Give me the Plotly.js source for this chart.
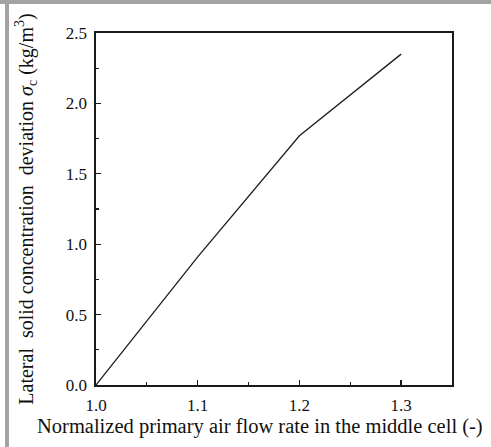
<!DOCTYPE html>
<html>
<head>
<meta charset="utf-8">
<script src="https://cdn.plot.ly/plotly-3.0.1.min.js"></script>
<style>
  html, body { margin: 0; padding: 0; background: #fff; }
  #wrap { position: relative; width: 491px; height: 447px; overflow: hidden; }
  #chart { position: absolute; left: 0; top: 0; width: 491px; height: 447px; }
  .bar-top { position: absolute; left: 0; top: 0; width: 491px; height: 4px; background: #a3a3a3; z-index: 5; }
  .bar-left { position: absolute; left: 5px; top: 0; width: 4px; height: 447px; background: #a3a3a3; z-index: 5; }
</style>
</head>
<body>
<div id="wrap">
  <div id="chart"></div>
  <div class="bar-top"></div>
  <div class="bar-left"></div>
</div>
<script>
// Data
const flowRate = [1.0, 1.1, 1.2, 1.3];
const deviation = [0.0, 0.91, 1.77, 2.35];
const xTickVals = [1.0, 1.1, 1.2, 1.3];
const yTickVals = [0.0, 0.5, 1.0, 1.5, 2.0, 2.5];
const xTitle = 'Normalized primary air flow rate in the middle cell (-)';
const yTitle = 'Lateral\u00A0 solid concentration\u00A0 deviation <i>σ</i><sub>c</sub> (kg/m<sup>3</sup>)';

const font = "Liberation Serif, Times New Roman, serif";

const trace = {
  x: flowRate,
  y: deviation,
  type: 'scatter',
  mode: 'lines',
  line: { color: '#1e1e1e', width: 1.3 },
  hoverinfo: 'none'
};

const axisCommon = {
  showgrid: false,
  zeroline: false,
  showline: true,
  linecolor: '#1a1a1a',
  linewidth: 1.6,
  mirror: true,
  ticks: 'inside',
  ticklen: 5,
  tickwidth: 1.3,
  tickcolor: '#1a1a1a',
  tickformat: '.1f',
  tickfont: { family: font, size: 17, color: '#111' }
};

const layout = {
  width: 491,
  height: 447,
  margin: { l: 96, r: 39, t: 33, b: 62 },
  paper_bgcolor: '#fff',
  plot_bgcolor: '#fff',
  showlegend: false,
  xaxis: Object.assign({}, axisCommon, {
    range: [1.0, 1.35],
    tickmode: 'array',
    tickvals: xTickVals,
    ticklabelstandoff: 4,
    minor: { dtick: 0.05, tick0: 1.0, ticks: 'inside', ticklen: 3, tickwidth: 1.2, tickcolor: '#1a1a1a', showgrid: false }
  }),
  yaxis: Object.assign({}, axisCommon, {
    range: [0, 2.5],
    tickmode: 'array',
    tickvals: yTickVals,
    ticklabelstandoff: 4,
    minor: { dtick: 0.25, tick0: 0, ticks: 'inside', ticklen: 3, tickwidth: 1.2, tickcolor: '#1a1a1a', showgrid: false },
    title: { text: yTitle, font: { family: font, size: 20, color: '#111' }, standoff: 27 }
  }),
  annotations: [{
    text: xTitle,
    xref: 'paper', yref: 'paper',
    x: 0.4607, y: 0,
    xanchor: 'center', yanchor: 'middle',
    yshift: -41,
    showarrow: false,
    font: { family: font, size: 20.5, color: '#111' }
  }]
};

Plotly.newPlot('chart', [trace], layout, { displayModeBar: false, staticPlot: true });
</script>
</body>
</html>
